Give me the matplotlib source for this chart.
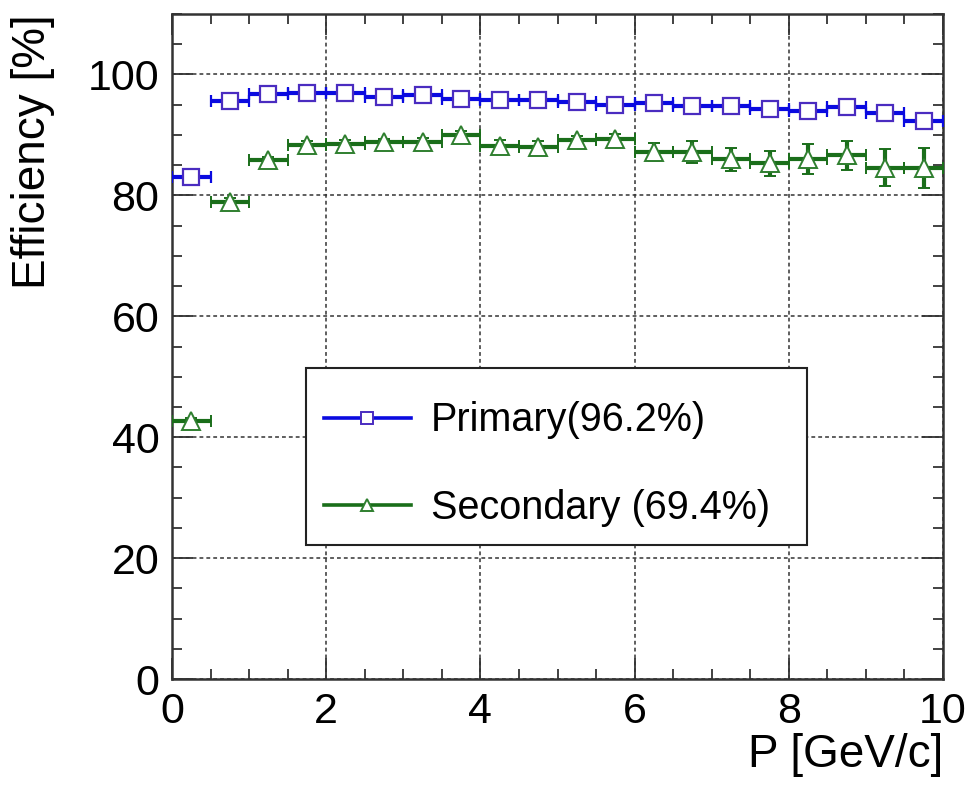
import matplotlib
matplotlib.use("Agg")
import matplotlib.pyplot as plt
from matplotlib.lines import Line2D
from matplotlib.patches import Rectangle
from matplotlib.ticker import MultipleLocator
import numpy as np

plt.rcParams['font.family'] = ['Liberation Sans', 'DejaVu Sans']

# ---- data ----
p_centers = [0.25, 0.75, 1.25, 1.75, 2.25, 2.75, 3.25, 3.75, 4.25, 4.75,
             5.25, 5.75, 6.25, 6.75, 7.25, 7.75, 8.25, 8.75, 9.25, 9.75]
bin_half_width = [0.25] * 20
primary_eff = [83.1, 95.6, 96.7, 97.0, 96.9, 96.3, 96.6, 95.9, 95.7, 95.7,
               95.4, 94.9, 95.2, 94.8, 94.8, 94.3, 94.0, 94.7, 93.7, 92.3]
primary_err = [0.5, 0.4, 0.3, 0.3, 0.3, 0.3, 0.3, 0.3, 0.3, 0.3,
               0.3, 0.4, 0.4, 0.4, 0.4, 0.5, 0.5, 0.5, 0.6, 0.7]
secondary_eff = [42.6, 78.9, 85.8, 88.4, 88.5, 88.8, 88.9, 90.0, 88.1, 88.0,
                 89.1, 89.3, 87.2, 87.2, 86.0, 85.3, 86.0, 86.6, 84.6, 84.6]
secondary_err = [0.6, 0.6, 0.6, 0.6, 0.6, 0.6, 0.6, 0.7, 1.0, 1.0,
                 0.8, 0.8, 1.5, 1.85, 1.9, 2.1, 2.5, 2.4, 3.0, 3.3]
labels = ["Primary(96.2%)", "Secondary (69.4%)"]

blue = '#0a0ae0'
blue_marker = '#4a2cc0'
green = '#1a6e1a'
green_marker = '#2f7f2f'

fig = plt.figure(figsize=(9.7, 7.87), dpi=100)
ax = fig.add_axes([0.1773, 0.1372, 0.9722 - 0.1773, 0.9822 - 0.1372])

ax.errorbar(p_centers, primary_eff, xerr=bin_half_width, yerr=primary_err,
            fmt='s', color=blue, ecolor=blue, elinewidth=3.0, capsize=4.5,
            capthick=2.6, ms=11.5, mfc='white', mec=blue_marker, mew=1.6, zorder=3)
ax.errorbar(p_centers, secondary_eff, xerr=bin_half_width, yerr=secondary_err,
            fmt='^', color=green, ecolor=green, elinewidth=3.0, capsize=4.5,
            capthick=2.6, ms=12.5, mfc='white', mec=green_marker, mew=1.4, zorder=3)

ax.set_xlim(0, 10)
ax.set_ylim(0, 110)
ax.xaxis.set_major_locator(MultipleLocator(2))
ax.xaxis.set_minor_locator(MultipleLocator(0.5))
ax.yaxis.set_major_locator(MultipleLocator(20))
ax.yaxis.set_minor_locator(MultipleLocator(5))

ax.tick_params(which='both', direction='in', top=True, right=True,
               labelsize=31, width=1.3, color='#333333')
ax.tick_params(which='major', length=15, pad=9)
ax.tick_params(which='minor', length=7)
for s in ax.spines.values():
    s.set_linewidth(1.8)
    s.set_color('#333333')

ax.grid(True, which='major', color='#333333', linestyle=(0, (2.5, 2)), linewidth=1.1)
ax.set_axisbelow(True)

ax.set_xlabel("P [GeV/c]", fontsize=33, loc='right')
ax.xaxis.set_label_coords(1.0, -0.081)
ax.xaxis.label.set_va('top')
ax.set_ylabel("Efficiency [%]", fontsize=33, loc='top')
ax.yaxis.set_label_coords(-0.152, 1.0)

# legend box (ROOT-style fixed-size pave)
ax.add_patch(Rectangle((0.174, 0.202), 0.65, 0.266, transform=ax.transAxes,
                       facecolor='white', edgecolor='#222222', linewidth=1.5,
                       zorder=4.5))

handles = [
    Line2D([], [], color=blue, lw=2.6, marker='s', ms=8, mfc='white', mec=blue_marker, mew=1.4),
    Line2D([], [], color=green, lw=2.6, marker='^', ms=8, mfc='white', mec=green_marker, mew=1.4),
]
leg = ax.legend(handles, labels, loc='lower left',
                bbox_to_anchor=(0.174, 0.202, 0.65, 0.266), mode='expand',
                fontsize=28.5, frameon=False, borderaxespad=0,
                handlelength=2.2, handletextpad=0.5, borderpad=0.45,
                labelspacing=1.25)
leg.set_zorder(5)

fig.savefig("out.png", dpi=100)
